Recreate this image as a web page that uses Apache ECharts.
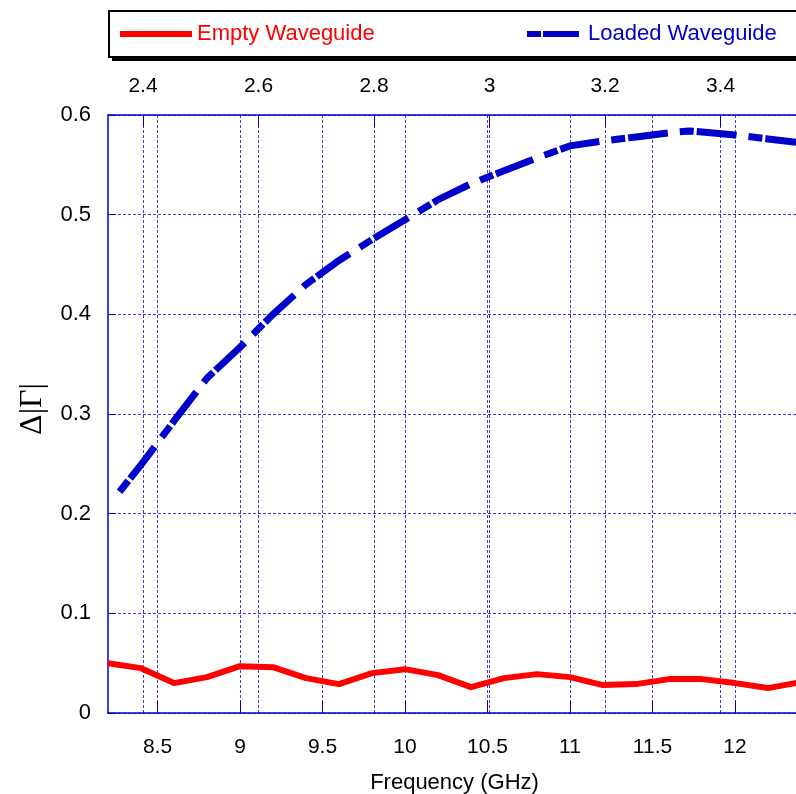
<!DOCTYPE html>
<html>
<head>
<meta charset="utf-8">
<script src="https://cdn.jsdelivr.net/npm/echarts@6/dist/echarts.min.js"></script>
<style>
html,body{margin:0;padding:0;background:#fff;}
#chart{width:796px;height:794px;}
</style>
</head>
<body>
<div id="chart"></div>
<script>
// ---- data ----
const emptyFreq = [8.2, 8.4, 8.6, 8.8, 9.0, 9.2, 9.4, 9.6, 9.8, 10.0, 10.2, 10.4, 10.6, 10.8, 11.0, 11.2, 11.4, 11.6, 11.8, 12.0, 12.2, 12.4];
const emptyVals = [0.050, 0.045, 0.030, 0.036, 0.047, 0.046, 0.035, 0.029, 0.040, 0.044, 0.038, 0.026, 0.035, 0.039, 0.036, 0.028, 0.029, 0.034, 0.034, 0.030, 0.025, 0.031];
const loadedFreq = [8.27, 8.4, 8.6, 8.8, 9.0, 9.2, 9.4, 9.6, 9.8, 10.0, 10.2, 10.4, 10.6, 10.8, 11.0, 11.2, 11.4, 11.6, 11.72, 11.8, 12.0, 12.2, 12.4];
const loadedVals = [0.222, 0.249, 0.293, 0.336, 0.367, 0.400, 0.430, 0.454, 0.475, 0.495, 0.515, 0.531, 0.544, 0.557, 0.569, 0.574, 0.578, 0.582, 0.584, 0.583, 0.580, 0.576, 0.572];
const bottomTicks = [8.5, 9, 9.5, 10, 10.5, 11, 11.5, 12];
const topTicks = [2.4, 2.6, 2.8, 3.0, 3.2, 3.4];
const freqMin = 8.2, freqMax = 12.4;
const topMin = 2.3394, topMax = 3.5394;
const yTicksMin = 0, yTicksMax = 0.6, yStep = 0.1;

const BLUE = '#0000cc';
const GRIDC = '#3a3ae0';
const chart = echarts.init(document.getElementById('chart'), null, {renderer: 'canvas'});

const dotted = {show: true, lineStyle: {color: GRIDC, width: 1, type: [3, 2]}};

const option = {
  backgroundColor: '#fff',
  animation: false,
  textStyle: {fontFamily: 'Liberation Sans, Arial, sans-serif'},
  graphic: [
    {type: 'rect', z: 0, shape: {x: 112, y: 15, width: 720, height: 46}, style: {fill: '#000'}},
    {type: 'rect', z: 1, shape: {x: 109, y: 11, width: 720, height: 46}, style: {fill: '#fff', stroke: '#000', lineWidth: 2}}
  ],
  legend: [
    {
      data: ['Empty Waveguide'], left: 120, top: 23, padding: 0, z: 5,
      icon: 'rect', itemWidth: 72, itemHeight: 6, itemGap: 5,
      textStyle: {fontSize: 22, color: '#ff0000', fontFamily: 'Liberation Sans, Arial, sans-serif'}
    },
    {
      data: ['Loaded Waveguide'], left: 527, top: 23, padding: 0, z: 5,
      icon: 'path://M0,0h14v6h-14z M16,0h36v6h-36z', itemWidth: 52, itemHeight: 6, itemGap: 5,
      textStyle: {fontSize: 22, color: BLUE, padding: [0, 0, 0, 4], fontFamily: 'Liberation Sans, Arial, sans-serif'}
    }
  ],
  grid: {left: 108, top: 115, right: -5, bottom: 81, containLabel: false, outerBoundsMode: 'none'},
  xAxis: [
    {
      type: 'value', position: 'bottom', min: freqMin, max: freqMax,
      name: 'Frequency (GHz)', nameLocation: 'middle', nameGap: 59,
      nameTextStyle: {fontSize: 22, color: '#000'},
      axisLine: {show: true, lineStyle: {color: BLUE, width: 1.5}},
      axisTick: {show: true, inside: true, length: 12, customValues: bottomTicks, lineStyle: {color: BLUE, width: 1}},
      axisLabel: {customValues: bottomTicks, fontSize: 21, color: '#000', margin: 24},
      splitLine: dotted
    },
    {
      type: 'value', position: 'top', min: topMin, max: topMax,
      axisLine: {show: true, lineStyle: {color: BLUE, width: 1.5}},
      axisTick: {show: true, inside: true, length: 12, customValues: topTicks, lineStyle: {color: BLUE, width: 1}},
      axisLabel: {customValues: topTicks, fontSize: 21, color: '#000', margin: 18},
      splitLine: dotted
    }
  ],
  yAxis: {
    type: 'value', min: yTicksMin, max: yTicksMax, interval: yStep,
    name: 'Δ|Γ|', nameLocation: 'middle', nameGap: 59, nameRotate: 90,
    nameTextStyle: {fontSize: 32, color: '#000', fontFamily: 'Liberation Serif, Times New Roman, serif', padding: [0, 0, 0, 10]},
    axisLine: {show: true, lineStyle: {color: BLUE, width: 1.5}},
    axisTick: {show: true, inside: true, length: 8, lineStyle: {color: BLUE, width: 1}},
    axisLabel: {fontSize: 22, color: '#000', margin: 17},
    splitLine: dotted
  },
  series: [
    {
      name: 'Empty Waveguide', type: 'line', xAxisIndex: 0, symbol: 'none', z: 3,
      data: emptyFreq.map((f, i) => [f, emptyVals[i]]),
      lineStyle: {color: '#ff0000', width: 6},
      itemStyle: {color: '#ff0000'}
    },
    {
      name: 'Loaded Waveguide', type: 'line', xAxisIndex: 0, symbol: 'none', z: 3,
      data: loadedFreq.map((f, i) => [f, loadedVals[i]]),
      lineStyle: {color: BLUE, width: 7, type: [14, 3, 40, 12], cap: 'butt', join: 'miter'},
      itemStyle: {color: BLUE}
    }
  ]
};
chart.setOption(option);
</script>
</body>
</html>
